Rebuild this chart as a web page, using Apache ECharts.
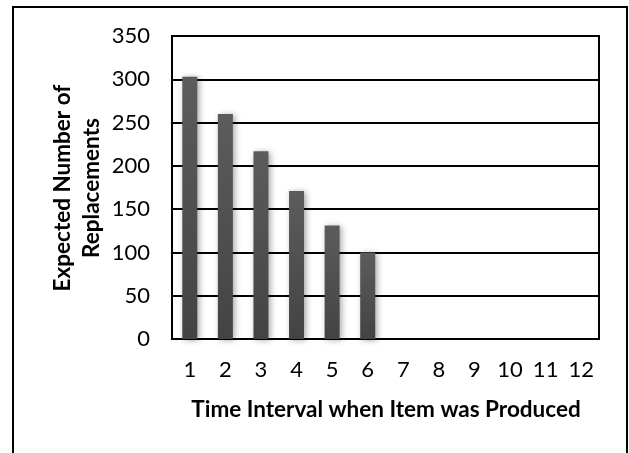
<!DOCTYPE html>
<html>
<head>
<meta charset="utf-8">
<script src="https://cdn.jsdelivr.net/npm/echarts@6/dist/echarts.min.js"></script>
<style>html,body{margin:0;padding:0;background:#fff;}#c{width:629px;height:453px;}</style>
</head>
<body>
<div id="c"></div>
<script>
var categories = ['1','2','3','4','5','6','7','8','9','10','11','12'];
var replacements = [303, 260, 217, 171, 131, 100, null, null, null, null, null, null];
var yTicks = [0, 50, 100, 150, 200, 250, 300, 350];
var xTitle = 'Time Interval when Item was Produced';
var yTitle = 'Expected Number of\nReplacements';

var chart = echarts.init(document.getElementById('c'));
var font = 'Lato, "Open Sans", sans-serif';
chart.setOption({
  animation: false,
  backgroundColor: '#fff',
  grid: {left: 172, right: 30, top: 36, bottom: 114, show: true, borderColor: '#000', borderWidth: 2, containLabel: false},
  xAxis: {
    type: 'category', data: categories,
    axisLine: {lineStyle: {color: '#000', width: 2}},
    axisTick: {show: false},
    axisLabel: {color: '#000', fontSize: 22, fontFamily: font, margin: 20}
  },
  yAxis: {
    type: 'value', min: yTicks[0], max: yTicks[yTicks.length-1], interval: 50,
    axisLine: {show: true, lineStyle: {color: '#000', width: 2}},
    axisTick: {show: false},
    axisLabel: {color: '#000', fontSize: 22, fontFamily: font, margin: 22},
    splitLine: {lineStyle: {color: '#000', width: 2}}
  },
  series: [{
    type: 'bar', data: replacements, barWidth: 15,
    itemStyle: {
      color: new echarts.graphic.LinearGradient(0, 0, 0, 1, [{offset: 0, color: '#5c5c5c'}, {offset: 1, color: '#434343'}]),
      shadowColor: 'rgba(0,0,0,0.35)', shadowBlur: 6, shadowOffsetX: 2, shadowOffsetY: 1
    }
  }],
  graphic: [
    {type: 'rect', shape: {x: 13, y: 7, width: 614, height: 470}, style: {fill: 'none', stroke: '#000', lineWidth: 2}, z: 100},
    {type: 'text', x: 386, y: 410, style: {text: xTitle, font: 'bold 22.5px ' + font, fill: '#000', textAlign: 'center', textVerticalAlign: 'middle'}},
    {type: 'text', x: 77, y: 188, rotation: Math.PI/2, style: {text: yTitle, font: 'bold 22.5px ' + font, fill: '#000', textAlign: 'center', textVerticalAlign: 'middle', lineHeight: 29}}
  ]
});
</script>
</body>
</html>
